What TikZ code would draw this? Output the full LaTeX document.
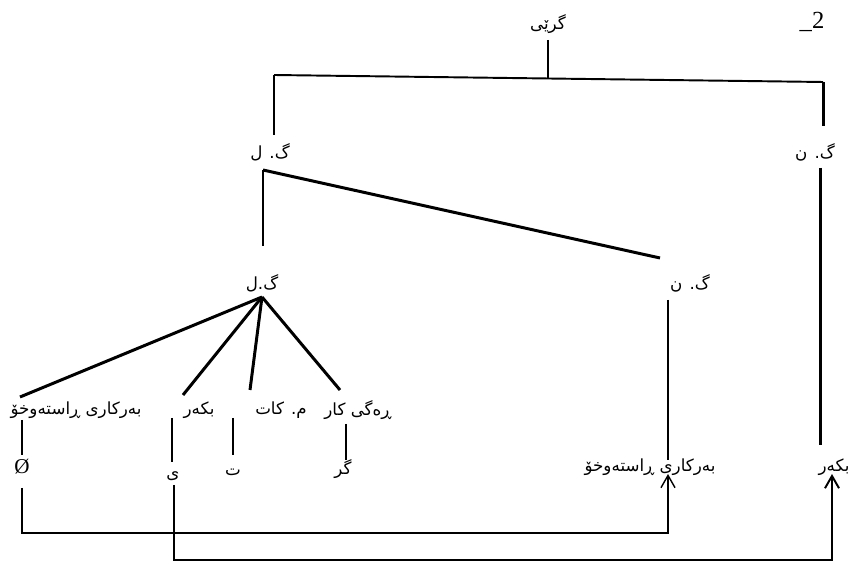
\documentclass[tikz,border=0pt]{standalone}
\usepackage{fontspec}
\newfontfamily\arabicfont[Script=Arabic]{DejaVu Sans}
\newfontfamily\seriffont{Liberation Serif}
\TeXXeTstate=1
\usetikzlibrary{arrows.meta}
\begin{document}
\begin{tikzpicture}[x=0.02cm,y=-0.02cm,
  lbl/.style={font=\arabicfont\fontsize{9.5}{11}\selectfont, inner sep=0pt},
  lat/.style={font=\seriffont\fontsize{12}{14}\selectfont, inner sep=0pt},
  tree/.style={line width=1.7pt},
  thinl/.style={line width=0.8pt},
  midl/.style={line width=1.1pt},
  arr/.style={-{Straight Barb[length=7pt,width=8pt]}}]
\useasboundingbox (0,0) rectangle (849,563);
% labels
\node[lbl] (root) at (548,24) {\beginR گرێی\endR};
\node[lat,font=\seriffont\fontsize{14}{16}\selectfont] (num) at (812,22) {\_2};
\node[lbl] (gl1) at (270,152) {\beginR گ. ل\endR};
\node[lbl] (gn1) at (815,152) {\beginR گ. ن\endR};
\node[lbl] (gl2) at (262,283) {\beginR گ.ل\endR};
\node[lbl] (gn2) at (690,283) {\beginR گ. ن\endR};
\node[lbl] (obj1) at (76,410) {\beginR بەرکاری ڕاستەوخۆ\endR};
\node[lbl] (subj1) at (199,410) {\beginR بکەر\endR};
\node[lbl] (tm) at (281,410) {\beginR م. کات\endR};
\node[lbl] (vr) at (358,410) {\beginR ڕەگی کار\endR};
\node[lat] (zero) at (22,467) {Ø};
\node[lbl] (yi) at (173,476) {\beginR ی\endR};
\node[lbl] (te) at (233,472) {\beginR ت\endR};
\node[lbl] (gr) at (343,469) {\beginR گر\endR};
\node[lbl] (obj2) at (650,467) {\beginR بەرکاری ڕاستەوخۆ\endR};
\node[lbl] (subj2) at (834,467) {\beginR بکەر\endR};
% connector points
\coordinate (r1) at (548,40);
\coordinate (r2) at (548,78);
\coordinate (hl) at (274,75);
\coordinate (hr) at (823,82);
\coordinate (gl1t) at (274,135);
\coordinate (gn1t) at (823,126);
\coordinate (gl1b) at (263,170);
\coordinate (gl2t) at (263,246);
\coordinate (gn2t) at (660,258);
\coordinate (gn1b) at (820,168);
\coordinate (subj2t) at (820,445);
\coordinate (gn2b) at (668,300);
\coordinate (obj2t) at (668,460);
\coordinate (apex) at (262,297);
\coordinate (e1) at (20,397);
\coordinate (e2) at (183,395);
\coordinate (e3) at (250,390);
\coordinate (e4) at (340,390);
\coordinate (v1a) at (22,420); \coordinate (v1b) at (22,455);
\coordinate (v2a) at (172,418); \coordinate (v2b) at (172,462);
\coordinate (v3a) at (233,418); \coordinate (v3b) at (233,455);
\coordinate (v4a) at (346,424); \coordinate (v4b) at (346,460);
\coordinate (a1s) at (22,488); \coordinate (a1t) at (668,474);
\coordinate (a2s) at (174,485); \coordinate (a2t) at (832,474);
% tree
\draw[tree] (r1) -- (r2);
\draw[midl] (hl) -- (hr);
\draw[tree] (hl) -- (gl1t);
\draw[tree] (hr) -- (gn1t);
\draw[tree] (gl1b) -- (gl2t);
\draw[tree] (gl1b) -- (gn2t);
\draw[tree] (gn1b) -- (subj2t);
\draw[midl] (gn2b) -- (obj2t);
\draw[tree] (apex) -- (e1);
\draw[tree] (apex) -- (e2);
\draw[tree] (apex) -- (e3);
\draw[tree] (apex) -- (e4);
\draw[thinl] (v1a) -- (v1b);
\draw[tree] (v2a) -- (v2b);
\draw[tree] (v3a) -- (v3b);
\draw[tree] (v4a) -- (v4b);
% movement arrows
\draw[thinl,arr] (a1s) |- (22,533) -| (a1t);
\draw[midl,arr] (a2s) |- (174,560) -| (a2t);
\end{tikzpicture}
\end{document}
